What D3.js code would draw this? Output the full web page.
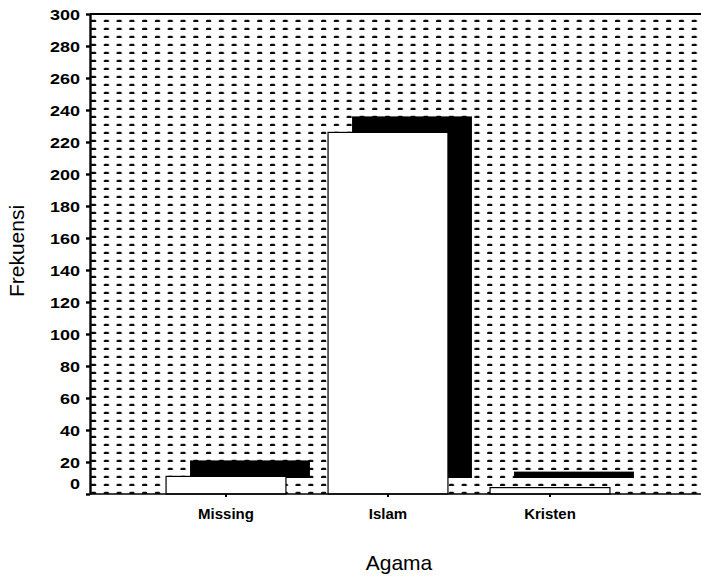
<!DOCTYPE html>
<html>
<head>
<meta charset="utf-8">
<script src="https://cdn.jsdelivr.net/npm/d3@7"></script>
<style>
  html, body { margin: 0; padding: 0; background: #fff; }
  svg { display: block; }
</style>
</head>
<body>
<svg id="chart" width="701" height="578"></svg>
<script>
// Religion (Agama) frequency table
const categories = ["Missing", "Islam", "Kristen"];
const frequencies = [11, 226, 4];
const yTickValues = [0, 20, 40, 60, 80, 100, 120, 140, 160, 180, 200, 220, 240, 260, 280, 300];

const W = 701, H = 578;
const plot = { left: 90, top: 14, right: 701, bottom: 494 };
const depth = { dx: 24, dy: -16 };   // offset of the bar's back face

const svg = d3.select("#chart");

const y = d3.scaleLinear().domain([0, 300]).range([plot.bottom, plot.top]);
const x = d3.scaleBand().domain(categories)
  .range([145, 631]).paddingInner(0.26).paddingOuter(0.13);

// dotted fill of the plot wall
const defs = svg.append("defs");
const pat = defs.append("pattern")
  .attr("id", "dots")
  .attr("patternUnits", "userSpaceOnUse")
  .attr("x", plot.left + 1).attr("y", plot.top)
  .attr("width", 12.78).attr("height", 8);
pat.append("rect").attr("x", 0).attr("y", 5.8).attr("width", 5.2).attr("height", 3)
  .attr("rx", 1.2).attr("fill", "#0a0a0a");

svg.append("rect")
  .attr("x", plot.left).attr("y", plot.top)
  .attr("width", plot.right - plot.left).attr("height", plot.bottom - plot.top)
  .attr("fill", "url(#dots)");

const data = categories.map((c, i) => ({ cat: c, value: frequencies[i] }));

// back faces (solid black depth)
svg.append("g").selectAll("rect").data(data).join("rect")
  .attr("x", d => x(d.cat) + depth.dx)
  .attr("y", d => y(d.value) + depth.dy)
  .attr("width", x.bandwidth())
  .attr("height", d => y(0) - y(d.value))
  .attr("fill", "#000");

// front faces
svg.append("g").selectAll("rect").data(data).join("rect")
  .attr("x", d => x(d.cat))
  .attr("y", d => y(d.value))
  .attr("width", x.bandwidth())
  .attr("height", d => y(0) - y(d.value))
  .attr("fill", "#fff")
  .attr("stroke", "#000")
  .attr("stroke-width", 1.2);

// frame lines
svg.append("line").attr("x1", plot.left).attr("x2", plot.right)
  .attr("y1", plot.top).attr("y2", plot.top)
  .attr("stroke", "#000").attr("stroke-width", 2.2);
svg.append("line").attr("x1", plot.left).attr("x2", plot.right)
  .attr("y1", plot.bottom).attr("y2", plot.bottom)
  .attr("stroke", "#000").attr("stroke-width", 1.6);

// y axis
const yAxis = svg.append("g")
  .attr("transform", `translate(${plot.left},0)`)
  .call(d3.axisLeft(y).tickValues(yTickValues).tickSize(4).tickSizeOuter(0).tickPadding(6));
yAxis.select(".domain").attr("stroke-width", 2.4);
yAxis.selectAll(".tick line").attr("stroke-width", 2.4);
yAxis.selectAll(".tick text")
  .attr("font-family", "'Liberation Sans', Arial, sans-serif")
  .attr("font-size", 15).attr("font-weight", "bold").attr("fill", "#000")
  .attr("x", -10 / 1.2)
  .attr("transform", "scale(1.2,1)")
  .attr("dy", d => d === 0 ? "-0.35em" : "0.34em");

// x axis
const xAxis = svg.append("g")
  .attr("transform", `translate(0,${plot.bottom})`)
  .call(d3.axisBottom(x).tickSize(3).tickSizeOuter(0).tickPadding(11));
xAxis.select(".domain").remove();
xAxis.selectAll(".tick line").attr("stroke-width", 2);
xAxis.selectAll(".tick text")
  .attr("font-family", "'Liberation Sans', Arial, sans-serif")
  .attr("font-size", 15).attr("font-weight", "bold").attr("fill", "#000");

// axis titles
svg.append("text")
  .attr("x", 399).attr("y", 570)
  .attr("text-anchor", "middle")
  .attr("font-family", "'Liberation Sans', Arial, sans-serif")
  .attr("font-size", 21).attr("fill", "#000")
  .text("Agama");

svg.append("text")
  .attr("transform", "translate(24,251) rotate(-90)")
  .attr("text-anchor", "middle")
  .attr("font-family", "'Liberation Sans', Arial, sans-serif")
  .attr("font-size", 21).attr("fill", "#000")
  .text("Frekuensi");
</script>
</body>
</html>
